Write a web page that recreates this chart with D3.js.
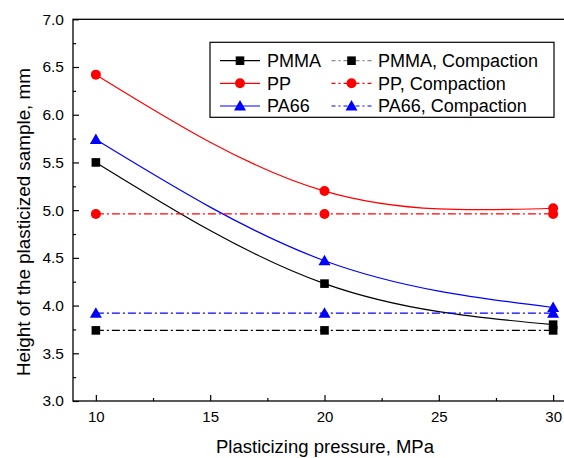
<!DOCTYPE html>
<html><head><meta charset="utf-8">
<script src="https://cdn.jsdelivr.net/npm/d3@7"></script>
<style>body{margin:0;background:#fff;} svg{display:block;font-family:"Liberation Sans",Arial,sans-serif;}</style>
</head><body>
<svg id="c" width="564" height="458"></svg>
<script>
const pressures = [10, 20, 30];
const pmma = [5.50, 4.23, 3.80];
const pp = [6.42, 5.20, 5.02];
const pa66 = [5.74, 4.47, 3.98];
const pmmaCompaction = [3.74, 3.74, 3.74];
const ppCompaction = [4.96, 4.96, 4.96];
const pa66Compaction = [3.92, 3.92, 3.92];
const xTicks = [10, 15, 20, 25, 30];
const yTicks = [3.0, 3.5, 4.0, 4.5, 5.0, 5.5, 6.0, 6.5, 7.0];
const seriesNames = ["PMMA", "PP", "PA66", "PMMA, Compaction", "PP, Compaction", "PA66, Compaction"];

const series = [
  {name: seriesNames[0], vals: pmma, color: "#000", marker: "square", dash: null},
  {name: seriesNames[1], vals: pp, color: "#ff0000", marker: "circle", dash: null},
  {name: seriesNames[2], vals: pa66, color: "#0000ff", marker: "triangle", dash: null},
  {name: seriesNames[3], vals: pmmaCompaction, color: "#000", marker: "square", dash: "8,3,2,3"},
  {name: seriesNames[4], vals: ppCompaction, color: "#ff0000", marker: "circle", dash: "8,3,2,3"},
  {name: seriesNames[5], vals: pa66Compaction, color: "#0000ff", marker: "triangle", dash: "8,3,2,3"}
];

const svg = d3.select("#c");
const L = 73, T = 19.3, B = 401, R = 576;
const x = d3.scaleLinear().domain([9, 31]).range([L, R]);
const y = d3.scaleLinear().domain([3, 7]).range([B, T]);

// frame (right side off canvas)
svg.append("rect").attr("x", L).attr("y", T).attr("width", R - L).attr("height", B - T)
  .attr("fill", "none").attr("stroke", "#000").attr("stroke-width", 1.3);

// x axis
const xAxis = d3.axisBottom(x).tickValues(xTicks).tickSize(-6).tickPadding(10).tickFormat(d3.format("d"));
const gx = svg.append("g").attr("transform", `translate(0,${B})`).call(xAxis);
gx.select(".domain").remove();
gx.selectAll("text").attr("font-size", 15).attr("fill", "#000");
const xMinor = d3.axisBottom(x).tickValues([12.5, 17.5, 22.5, 27.5]).tickSize(-3).tickFormat("");
svg.append("g").attr("transform", `translate(0,${B})`).call(xMinor).select(".domain").remove();

// y axis
const yAxis = d3.axisLeft(y).tickValues(yTicks).tickSize(-6).tickPadding(9).tickFormat(d3.format(".1f"));
const gy = svg.append("g").attr("transform", `translate(${L},0)`).call(yAxis);
gy.select(".domain").remove();
gy.selectAll("text").attr("font-size", 15.5).attr("fill", "#000");
const yMinor = d3.axisLeft(y).tickValues([3.25, 3.75, 4.25, 4.75, 5.25, 5.75, 6.25, 6.75]).tickSize(-3).tickFormat("");
svg.append("g").attr("transform", `translate(${L},0)`).call(yMinor).select(".domain").remove();
svg.selectAll(".tick line").attr("stroke", "#000").attr("stroke-width", 1.2);

// titles
svg.append("text").attr("x", 325).attr("y", 453).attr("text-anchor", "middle")
  .attr("font-size", 18.5).text("Plasticizing pressure, MPa");
svg.append("text").attr("transform", "translate(29.5,222) rotate(-90)").attr("text-anchor", "middle")
  .attr("font-size", 17.5).attr("textLength", 308).attr("lengthAdjust", "spacingAndGlyphs")
  .text("Height of the plasticized sample, mm");

function drawMarker(g, type, cx, cy, color) {
  if (type === "square") {
    g.append("rect").attr("x", cx - 4.3).attr("y", cy - 4.3).attr("width", 8.6).attr("height", 8.6).attr("fill", color);
  } else if (type === "circle") {
    g.append("circle").attr("cx", cx).attr("cy", cy).attr("r", 5).attr("fill", color);
  } else {
    g.append("path").attr("d", `M${cx},${cy - 6}L${cx + 6},${cy + 4.5}L${cx - 6},${cy + 4.5}Z`).attr("fill", color);
  }
}

const plot = svg.append("g");
series.forEach(s => {
  const pts = pressures.map((p, i) => [x(p), y(s.vals[i])]);
  const line = d3.line().curve(s.dash ? d3.curveLinear : d3.curveNatural);
  plot.append("path").attr("d", line(pts)).attr("fill", "none").attr("stroke", s.color)
    .attr("stroke-width", 1.2).attr("stroke-dasharray", s.dash);
});
series.forEach(s => {
  pressures.forEach((p, i) => drawMarker(plot, s.marker, x(p), y(s.vals[i]), s.color));
});

// legend
const lg = svg.append("g");
lg.append("rect").attr("x", 210).attr("y", 42.3).attr("width", 344).attr("height", 75)
  .attr("fill", "#fff").attr("stroke", "#000").attr("stroke-width", 1.2);
const rowsY = [60.7, 83.3, 106];
series.forEach((s, i) => {
  const col = Math.floor(i / 3), row = i % 3;
  const x0 = col === 0 ? 220 : 331.5, tx = col === 0 ? 267 : 378;
  const yy = rowsY[row];
  lg.append("line").attr("x1", x0).attr("x2", x0 + 40).attr("y1", yy).attr("y2", yy)
    .attr("stroke", s.color).attr("stroke-width", 1.2).attr("stroke-dasharray", s.dash ? "4,3,2,3" : null)
    .attr("opacity", s.dash && s.color === "#000" ? 0.45 : 1);
  drawMarker(lg, s.marker, x0 + 20, yy, s.color);
  lg.append("text").attr("x", tx).attr("y", yy + 6.2).attr("font-size", 18).text(s.name);
});
</script>
</body></html>
